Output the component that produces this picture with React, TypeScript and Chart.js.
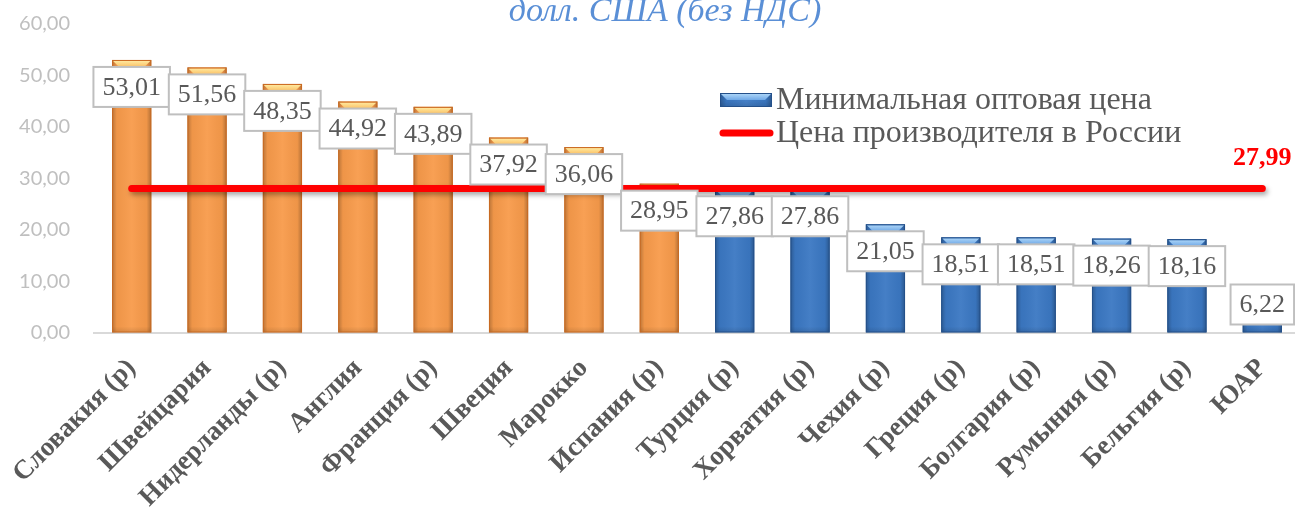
import React, { useEffect, useRef } from 'react';
import { Chart, registerables } from 'chart.js';

Chart.register(...registerables);

const categories = [
  'Словакия (р)', 'Швейцария', 'Нидерланды (р)', 'Англия', 'Франция (р)', 'Швеция', 'Марокко', 'Испания (р)',
  'Турция (р)', 'Хорватия (р)', 'Чехия (р)', 'Греция (р)', 'Болгария (р)', 'Румыния (р)', 'Бельгия (р)', 'ЮАР',
];
const minWholesalePrice = [53.01, 51.56, 48.35, 44.92, 43.89, 37.92, 36.06, 28.95, 27.86, 27.86, 21.05, 18.51, 18.51, 18.26, 18.16, 6.22];
const russiaProducerPrice = [27.99, 27.99, 27.99, 27.99, 27.99, 27.99, 27.99, 27.99, 27.99, 27.99, 27.99, 27.99, 27.99, 27.99, 27.99, 27.99];
const yTickMin = 0;
const yTickMax = 60;
const yTickStep = 10;
const titleText = 'долл. США (без НДС)';
const seriesNames = ['Минимальная оптовая цена', 'Цена производителя в России'];

const fmt = (v: number) => v.toFixed(2).replace('.', ',');

const ORANGE = { base: '#F89B4B', edge: '#C96A22', light1: '#FFEFA8', light2: '#FBC064' };
const BLUE = { base: '#3B78C3', edge: '#24508A', light1: '#B4DBFA', light2: '#6FA8E6' };

function drawBevelBar(c: CanvasRenderingContext2D, x: number, y: number, base: number, w: number, pal: any) {
  const l = x - w / 2, r = x + w / 2, t = Math.min(y, base), b = Math.max(y, base);
  const h = b - t;
  c.save();
  const g = c.createLinearGradient(l, 0, r, 0);
  g.addColorStop(0, 'rgba(0,0,0,0.25)');
  g.addColorStop(0.12, 'rgba(0,0,0,0.04)');
  g.addColorStop(0.5, 'rgba(255,255,255,0.05)');
  g.addColorStop(0.88, 'rgba(0,0,0,0.04)');
  g.addColorStop(1, 'rgba(0,0,0,0.28)');
  c.fillStyle = g;
  c.fillRect(l, t, w, h);
  const bh = Math.min(7, h / 2);
  const tg = c.createLinearGradient(0, t, 0, t + bh);
  tg.addColorStop(0, pal.light1);
  tg.addColorStop(1, pal.light2);
  c.fillStyle = tg;
  c.beginPath();
  c.moveTo(l + 1, t + 1);
  c.lineTo(r - 1, t + 1);
  c.lineTo(r - bh, t + bh);
  c.lineTo(l + bh, t + bh);
  c.closePath();
  c.fill();
  const bg = c.createLinearGradient(0, b - 6, 0, b);
  bg.addColorStop(0, 'rgba(0,0,0,0)');
  bg.addColorStop(1, 'rgba(0,0,0,0.12)');
  c.fillStyle = bg;
  c.fillRect(l, b - 6, w, 6);
  c.strokeStyle = pal.edge;
  c.lineWidth = 1;
  c.strokeRect(l + 0.5, t + 0.5, w - 1, h - 1);
  c.restore();
}

const decorPlugin = {
  id: 'decor',
  beforeDatasetDraw(chart: any, args: any) {
    if (args.meta.type === 'line') {
      const c = chart.ctx;
      c.save();
      c.shadowColor = 'rgba(0,0,0,0.35)';
      c.shadowBlur = 5;
      c.shadowOffsetX = 2;
      c.shadowOffsetY = 3;
    }
  },
  afterDatasetDraw(chart: any, args: any) {
    const c = chart.ctx as CanvasRenderingContext2D;
    if (args.meta.type === 'line') {
      c.restore();
      return;
    }
    if (args.meta.type === 'bar') {
      args.meta.data.forEach((el: any, i: number) => {
        const p = el.getProps(['x', 'y', 'base', 'width'], true);
        const pal = minWholesalePrice[i] > russiaProducerPrice[i] ? ORANGE : BLUE;
        drawBevelBar(c, p.x, p.y, p.base, p.width, pal);
      });
    }
  },
  afterDatasetsDraw(chart: any) {
    const c = chart.ctx as CanvasRenderingContext2D;
    const bars = chart.getDatasetMeta(1);
    const baseY = chart.scales.y.getPixelForValue(0);
    c.save();
    c.font = '26px "Liberation Serif", serif';
    c.textAlign = 'center';
    c.textBaseline = 'middle';
    bars.data.forEach((el: any, i: number) => {
      const p = el.getProps(['x', 'y'], true);
      const txt = fmt(minWholesalePrice[i]);
      const tw = c.measureText(txt).width;
      const bw = tw + 18;
      const bh = 40;
      const cy = Math.min(p.y + 27, baseY - 8 - bh / 2);
      c.fillStyle = '#FFFFFF';
      c.fillRect(p.x - bw / 2, cy - bh / 2, bw, bh);
      c.strokeStyle = '#BFBFBF';
      c.lineWidth = 2;
      c.strokeRect(p.x - bw / 2, cy - bh / 2, bw, bh);
      c.fillStyle = '#595959';
      c.fillText(txt, p.x, cy + 1);
    });
    const line = chart.getDatasetMeta(0);
    const last = line.data[line.data.length - 1];
    const lp = last.getProps(['x', 'y'], true);
    c.font = 'bold 26px "Liberation Serif", serif';
    c.fillStyle = '#FF0000';
    c.fillText(fmt(russiaProducerPrice[russiaProducerPrice.length - 1]), lp.x, lp.y - 30);
    c.restore();
  },
  afterDraw(chart: any) {
    const c = chart.ctx as CanvasRenderingContext2D;
    c.save();
    c.font = 'italic 34px "Liberation Serif", serif';
    c.fillStyle = '#5A8FD6';
    c.textAlign = 'center';
    c.textBaseline = 'alphabetic';
    c.fillText(titleText, 665, 21);
    const lx = 720;
    const y1 = 100;
    const y2 = 133;
    c.save();
    c.fillStyle = BLUE.base;
    c.fillRect(lx, y1 - 7, 52, 14);
    c.restore();
    drawBevelBar(c, lx + 26, y1 - 7, y1 + 7, 52, BLUE);
    c.strokeStyle = '#FF0000';
    c.lineWidth = 7;
    c.lineCap = 'round';
    c.beginPath();
    c.moveTo(lx + 3, y2);
    c.lineTo(lx + 50, y2);
    c.stroke();
    c.font = '32px "Liberation Serif", serif';
    c.fillStyle = '#595959';
    c.textAlign = 'left';
    c.textBaseline = 'middle';
    c.fillText(seriesNames[0], lx + 56, y1 + 1);
    c.fillText(seriesNames[1], lx + 56, y2 + 1);
    c.restore();
  },
};

export default function App() {
  const ref = useRef<HTMLCanvasElement>(null);
  useEffect(() => {
    if (!ref.current) return;
    const chart = new Chart(ref.current, {
      type: 'bar',
      data: {
        labels: categories,
        datasets: [
          {
            type: 'line',
            label: seriesNames[1],
            data: russiaProducerPrice,
            borderColor: '#FF0000',
            backgroundColor: '#FF0000',
            borderWidth: 7,
            borderCapStyle: 'round',
            pointRadius: 0,
            pointHoverRadius: 0,
            fill: false,
            tension: 0,
            order: 0,
          } as any,
          {
            type: 'bar',
            label: seriesNames[0],
            data: minWholesalePrice,
            backgroundColor: minWholesalePrice.map((v, i) => (v > russiaProducerPrice[i] ? ORANGE.base : BLUE.base)),
            borderWidth: 0,
            barPercentage: 0.52,
            categoryPercentage: 1,
            order: 1,
          },
        ],
      },
      options: {
        responsive: false,
        animation: false,
        layout: { padding: { top: 24, right: 5, left: 0, bottom: 0 } },
        plugins: {
          legend: { display: false },
          tooltip: { enabled: false },
          title: { display: false },
        },
        scales: {
          x: {
            grid: { display: false, drawTicks: false },
            border: { display: true, color: '#D9D9D9', width: 2 },
            ticks: {
              autoSkip: false,
              maxRotation: 45,
              minRotation: 45,
              padding: 20,
              color: '#595959',
              font: { family: '"Liberation Serif", serif', size: 27, weight: 'bold' },
            },
            afterFit: (scale: any) => {
              scale.height = 507 - 332.5;
              scale.paddingLeft = 0;
              scale.paddingRight = 0;
            },
          },
          y: {
            min: yTickMin,
            max: yTickMax,
            grid: { display: false, drawTicks: false },
            border: { display: false },
            ticks: {
              stepSize: yTickStep,
              padding: 24,
              color: '#BFBFBF',
              font: { family: 'Lato, "Noto Sans", sans-serif', size: 20 },
              callback: (v: any) => fmt(Number(v)),
            },
            afterFit: (scale: any) => {
              scale.width = 94;
              scale.paddingTop = 0;
              scale.paddingBottom = 0;
            },
          },
        },
      },
      plugins: [decorPlugin],
    });
    return () => chart.destroy();
  }, []);

  return (
    <div style={{ position: 'fixed', left: 0, top: 0, width: 1295, height: 507, overflow: 'hidden', background: '#fff' }}>
      <canvas ref={ref} width={1305} height={507} style={{ width: 1305, height: 507, display: 'block' }} />
    </div>
  );
}
